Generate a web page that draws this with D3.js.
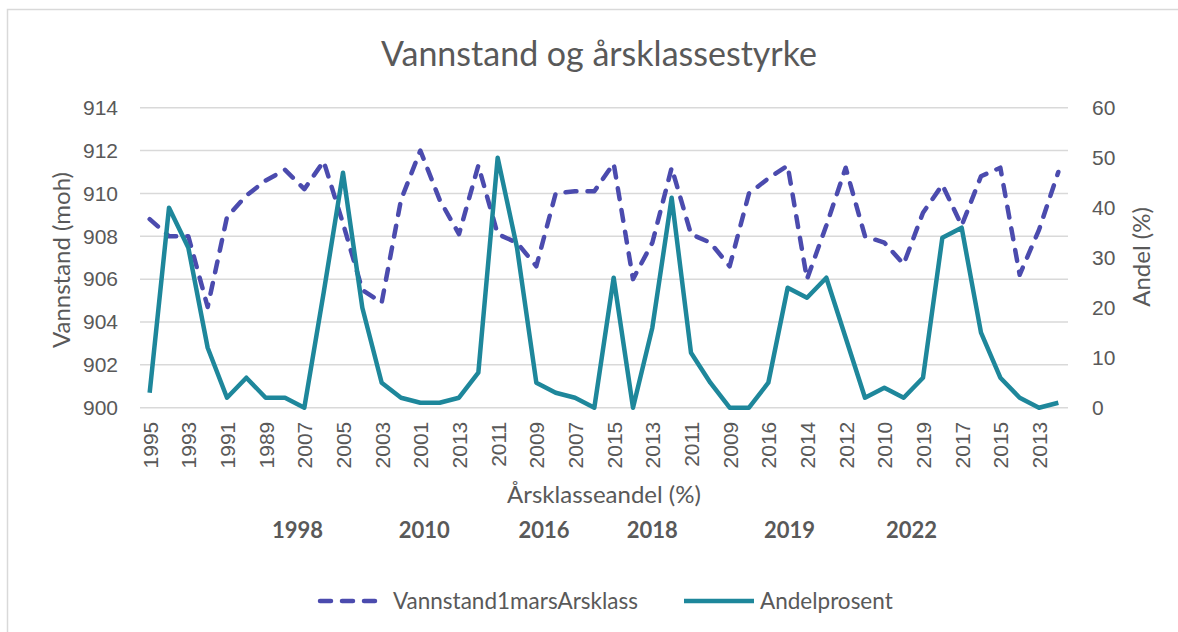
<!DOCTYPE html>
<html>
<head>
<meta charset="utf-8">
<script src="https://cdn.jsdelivr.net/npm/d3@7"></script>
<style>
  body { margin: 0; background: #fff; }
  svg { font-family: Lato, "Open Sans", sans-serif; }
</style>
</head>
<body>
<svg width="1178" height="632"></svg>
<script>
// year class labels (only every other one is shown on the axis)
const years = [
  "1995", "1994", "1993", "1992", "1991", "1990", "1989", "1988",
  "2007", "2006", "2005", "2004", "2003", "2002", "2001", "2000",
  "2013", "2012", "2011", "2010", "2009", "2008", "2007", "2006",
  "2015", "2014", "2013", "2012", "2011", "2010", "2009", "2008",
  "2016", "2015", "2014", "2013", "2012", "2011", "2010", "2009",
  "2019", "2018", "2017", "2016", "2015", "2014", "2013", "2012"
];

// water level 1 March (moh)
const vannstand = [
  908.8, 908.0, 908.0, 904.7, 908.9, 909.9, 910.6, 911.1,
  910.2, 911.5, 908.6, 905.5, 904.9, 909.7, 912.0, 909.7,
  908.1, 911.3, 908.1, 907.7, 906.6, 910.0, 910.1, 910.1,
  911.4, 906.0, 907.7, 911.2, 908.1, 907.7, 906.6, 910.0,
  910.7, 911.3, 906.0, 908.5, 911.2, 908.0, 907.7, 906.7,
  909.1, 910.4, 908.5, 910.8, 911.2, 906.2, 908.3, 911.0
];

// year class share (%)
const andel = [
  3, 40, 32, 12, 2, 6, 2, 2,
  0, 23, 47, 20, 5, 2, 1, 1,
  2, 7, 50, 32, 5, 3, 2, 0,
  26, 0, 16, 42, 11, 5, 0, 0,
  5, 24, 22, 26, 14, 2, 4, 2,
  6, 34, 36, 15, 6, 2, 0, 1
];

// outer level labels (sampling year) and the category they sit under
const groups = ["1998", "2010", "2016", "2018", "2019", "2022"];
const groupAt = [7.65, 14.2, 20.4, 26, 33.1, 39.4];

const leftTicks = [900, 902, 904, 906, 908, 910, 912, 914];
const rightTicks = [0, 10, 20, 30, 40, 50, 60];

const svg = d3.select("svg");
const textColor = "#595959";
const purple = "#4b4bae";
const teal = "#1e879b";

const plotLeft = 140, plotRight = 1068, plotTop = 107.7, plotBottom = 407.7;

// chart border
svg.append("rect")
  .attr("x", 7.5).attr("y", 9.5)
  .attr("width", 1200).attr("height", 700)
  .attr("fill", "none")
  .attr("stroke", "#d9d9d9")
  .attr("stroke-width", 1.5);

// scales
const x = d3.scaleLinear().domain([-0.5, years.length - 0.5]).range([plotLeft, plotRight]);
const yLeft = d3.scaleLinear().domain([900, 914]).range([plotBottom, plotTop]);
const yRight = d3.scaleLinear().domain([0, 60]).range([plotBottom, plotTop]);

// gridlines
svg.append("g")
  .selectAll("line")
  .data(leftTicks)
  .enter()
  .append("line")
  .attr("x1", plotLeft).attr("x2", plotRight)
  .attr("y1", (d) => yLeft(d)).attr("y2", (d) => yLeft(d))
  .attr("stroke", "#d9d9d9")
  .attr("stroke-width", 1.5);

// left axis
const leftAxis = svg.append("g")
  .attr("transform", `translate(${plotLeft - 22},0)`)
  .call(d3.axisLeft(yLeft).tickValues(leftTicks).tickSize(0).tickPadding(0));
leftAxis.select(".domain").remove();
leftAxis.selectAll("text")
  .attr("fill", textColor)
  .style("font-size", "21px");

// right axis
const rightAxis = svg.append("g")
  .attr("transform", `translate(${plotRight + 24},0)`)
  .call(d3.axisRight(yRight).tickValues(rightTicks).tickSize(0).tickPadding(0));
rightAxis.select(".domain").remove();
rightAxis.selectAll("text")
  .attr("fill", textColor)
  .style("font-size", "21px");

// bottom axis: every other category label, rotated
const shown = d3.range(0, years.length, 2);
const bottomAxis = svg.append("g")
  .attr("transform", `translate(0,${plotBottom})`)
  .call(d3.axisBottom(x).tickValues(shown).tickFormat((i) => years[i]).tickSize(0).tickPadding(0));
bottomAxis.select(".domain").remove();
bottomAxis.selectAll("text")
  .attr("fill", textColor)
  .style("font-size", "21px")
  .attr("text-anchor", "end")
  .attr("dy", "0.35em")
  .attr("transform", "translate(0,14) rotate(-90)")
  .attr("x", 0).attr("y", 0);

// group labels
svg.append("g")
  .selectAll("text")
  .data(groups)
  .enter()
  .append("text")
  .attr("x", (d, i) => x(groupAt[i]))
  .attr("y", 538)
  .attr("text-anchor", "middle")
  .attr("fill", textColor)
  .style("font-size", "22px")
  .style("font-weight", "bold")
  .text((d) => d);

// lines
const lineLeft = d3.line().x((d, i) => x(i)).y((d) => yLeft(d));
const lineRight = d3.line().x((d, i) => x(i)).y((d) => yRight(d));

svg.append("path")
  .datum(vannstand)
  .attr("d", lineLeft)
  .attr("fill", "none")
  .attr("stroke", purple)
  .attr("stroke-width", 4.5)
  .attr("stroke-linecap", "round")
  .attr("stroke-linejoin", "round")
  .attr("stroke-dasharray", "11,11");

svg.append("path")
  .datum(andel)
  .attr("d", lineRight)
  .attr("fill", "none")
  .attr("stroke", teal)
  .attr("stroke-width", 4.5)
  .attr("stroke-linejoin", "round");

// titles
svg.append("text")
  .attr("x", 599).attr("y", 66)
  .attr("text-anchor", "middle")
  .attr("fill", textColor)
  .style("font-size", "34px")
  .text("Vannstand og årsklassestyrke");

svg.append("text")
  .attr("transform", "translate(70,260) rotate(-90)")
  .attr("text-anchor", "middle")
  .attr("fill", textColor)
  .style("font-size", "24px")
  .text("Vannstand (moh)");

svg.append("text")
  .attr("transform", "translate(1150,257) rotate(-90)")
  .attr("text-anchor", "middle")
  .attr("fill", textColor)
  .style("font-size", "24px")
  .text("Andel (%)");

svg.append("text")
  .attr("x", 604).attr("y", 503)
  .attr("text-anchor", "middle")
  .attr("fill", textColor)
  .style("font-size", "24px")
  .text("Årsklasseandel (%)");

// legend
const legend = svg.append("g").attr("transform", "translate(0,601)");
legend.append("line")
  .attr("x1", 320).attr("x2", 380)
  .attr("stroke", purple)
  .attr("stroke-width", 4.5)
  .attr("stroke-linecap", "round")
  .attr("stroke-dasharray", "11,11");
legend.append("text")
  .attr("x", 393).attr("dy", "0.35em")
  .attr("fill", textColor)
  .style("font-size", "22.5px")
  .text("Vannstand1marsArsklass");
legend.append("line")
  .attr("x1", 684).attr("x2", 754)
  .attr("stroke", teal)
  .attr("stroke-width", 4.5);
legend.append("text")
  .attr("x", 760).attr("dy", "0.35em")
  .attr("fill", textColor)
  .style("font-size", "22.5px")
  .text("Andelprosent");
</script>
</body>
</html>
